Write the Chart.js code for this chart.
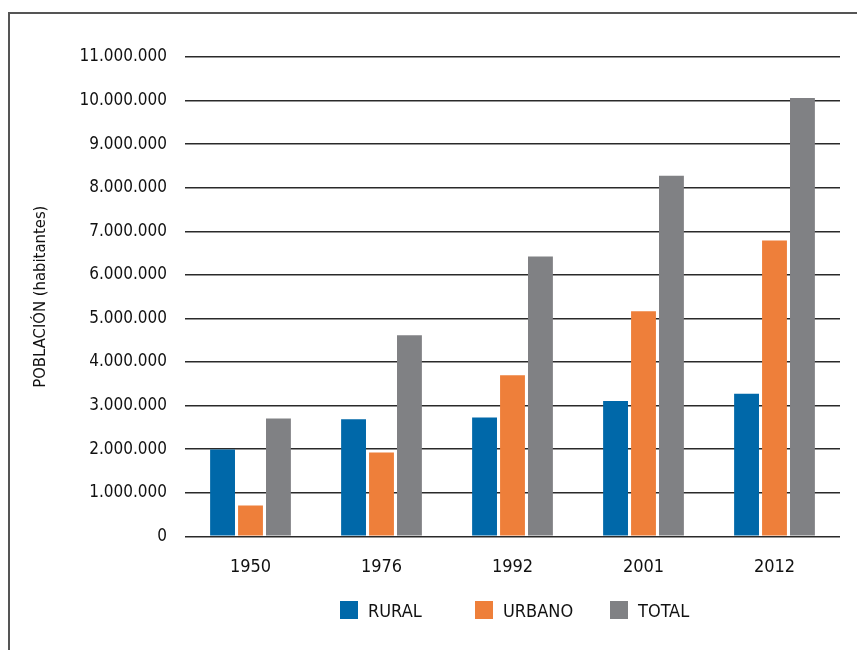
<!DOCTYPE html>
<html>
<head>
<meta charset="utf-8">
<script src="https://cdn.jsdelivr.net/npm/chart.js@4.4.0/dist/chart.umd.min.js"></script>
<style>
  html, body { margin: 0; padding: 0; background: #fff; }
  #wrap { position: relative; width: 857px; height: 650px; overflow: hidden; }
  #frame { position: absolute; left: 8px; top: 12px; width: 900px; height: 700px; border: 2px solid #555; box-sizing: border-box; }
  #c { position: absolute; left: 0; top: 0; }
  #legend { position: absolute; top: 598px; left: 340px; display: flex; font-family: 'DejaVu Sans Condensed', sans-serif; font-size: 18px; color: #111; }
  .item { width: 135px; display: flex; align-items: center; height: 24px; }
  .box { width: 18px; height: 18px; margin-right: 10px; flex: none; }
</style>
</head>
<body>
<div id="wrap">
  <div id="frame"></div>
  <canvas id="c" width="857" height="650"></canvas>
  <div id="legend"></div>
</div>
<script>
const categories = ['1950', '1976', '1992', '2001', '2012'];
const seriesNames = ['RURAL', 'URBANO', 'TOTAL'];
const rural  = [1995597, 2687646, 2725946, 3109095, 3270894];
const urbano = [708568, 1925840, 3694846, 5165230, 6788962];
const total  = [2704165, 4613486, 6420792, 8274325, 10059856];
const colors = ['#0068a9', '#ee7f3a', '#808184'];
const yMin = 0, yMax = 11000000, yStep = 1000000;
const yTitle = 'POBLACIÓN (habitantes)';

const FONT = "'DejaVu Sans Condensed', sans-serif";
const fmt = v => String(v).replace(/\B(?=(\d{3})+(?!\d))/g, '.');

const values = [rural, urbano, total];
const datasets = seriesNames.map((n, i) => ({
  label: n,
  data: values[i],
  backgroundColor: colors[i],
  borderWidth: 0,
  categoryPercentage: 0.64,
  barPercentage: 0.89
}));

new Chart(document.getElementById('c'), {
  type: 'bar',
  data: { labels: categories, datasets },
  options: {
    responsive: false,
    animation: false,
    layout: { padding: { top: 57, right: 17, bottom: 52, left: 0 } },
    plugins: { legend: { display: false }, tooltip: { enabled: false } },
    scales: {
      x: {
        grid: { display: false, drawTicks: false },
        border: { display: false },
        ticks: { color: '#111', font: { family: FONT, size: 18 }, padding: 20 }
      },
      y: {
        min: yMin, max: yMax,
        afterFit: s => { s.width = 185; },
        grid: { color: '#2a2a2a', lineWidth: 1.6, drawTicks: false },
        border: { display: false },
        ticks: { stepSize: yStep, color: '#111', font: { family: FONT, size: 17 }, padding: 18, callback: v => fmt(v) },
        title: { display: true, text: yTitle, color: '#111', font: { family: FONT, size: 16.5 }, padding: { top: 31, bottom: 0 } }
      }
    }
  }
});

const leg = document.getElementById('legend');
seriesNames.forEach((n, i) => {
  const it = document.createElement('div');
  it.className = 'item';
  const b = document.createElement('span');
  b.className = 'box';
  b.style.background = colors[i];
  const t = document.createElement('span');
  t.textContent = n;
  it.appendChild(b); it.appendChild(t);
  leg.appendChild(it);
});
</script>
</body>
</html>
